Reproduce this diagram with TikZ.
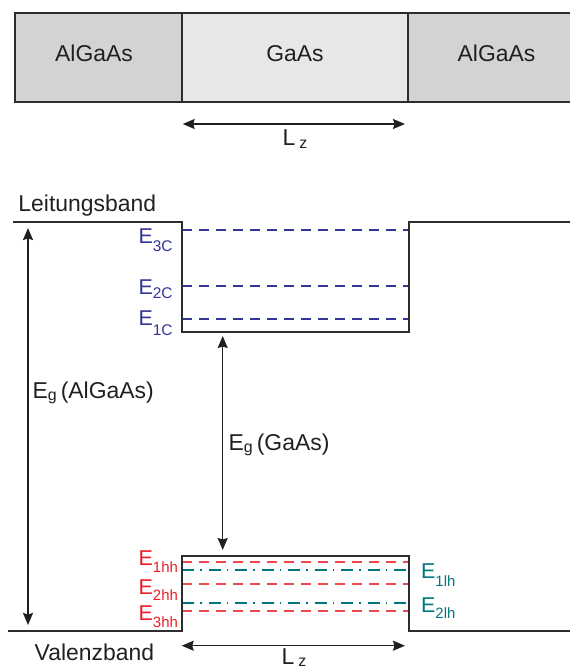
\documentclass[tikz,border=0pt]{standalone}
\usepackage{fontspec}
\setmainfont{Liberation Sans}
\usetikzlibrary{arrows.meta}
\definecolor{ink}{RGB}{35,31,32}
\definecolor{edge}{RGB}{45,45,45}
\definecolor{barside}{RGB}{209,211,212}
\definecolor{barmid}{RGB}{230,231,232}
\definecolor{cblue}{RGB}{50,52,150}
\definecolor{hhline}{RGB}{240,72,78}
\definecolor{hhred}{RGB}{237,28,36}
\definecolor{lhteal}{RGB}{0,118,128}
\newcommand\myfs[1]{\fontsize{#1}{#1}\selectfont}
\begin{document}
\begin{tikzpicture}[x=1bp,y=-1bp,
  lbl/.style={anchor=base west,inner sep=0pt,text=ink,font=\myfs{23}},
  elbl/.style={anchor=base west,inner sep=0pt,font=\myfs{21.5}},
  band/.style={draw=edge,line width=1.8bp},
  dimarrow/.style={draw=ink,line width=1.5bp,{Stealth[length=12bp,width=10bp,inset=1.5bp]}-{Stealth[length=12bp,width=10bp,inset=1.5bp]}},
  cdash/.style={draw=cblue,line width=1.8bp,dash pattern=on 10bp off 7bp},
  hhdash/.style={draw=hhline,line width=1.8bp,dash pattern=on 10bp off 7bp},
  lhdash/.style={draw=lhteal,line width=1.8bp,dash pattern=on 12bp off 6bp on 1.5bp off 7bp}
]
\useasboundingbox (0,0) rectangle (570,669);

% ---- layer stack ----
\fill[barside] (15,13) rectangle (182,102);
\fill[barmid] (182,13) rectangle (408,102);
\fill[barside] (408,13) rectangle (570,102);
\draw[band] (570,13) -| (15,102) -- (570,102);
\draw[band] (182,13) -- (182,102);
\draw[band] (408,13) -- (408,102);
\node[lbl,anchor=base] (layL) at (94,61.7) {AlGaAs};
\node[lbl,anchor=base] (layM) at (295,61.7) {GaAs};
\node[lbl,anchor=base] (layR) at (496.5,61.7) {AlGaAs};

\coordinate (lzA) at (182.7,124);
\coordinate (lzB) at (405,124);
\draw[dimarrow] (lzA) -- (lzB);
\node[lbl] (lztop) at (282.5,145) {L\hspace{4pt}\raisebox{-3.3pt}{\myfs{16}z}};

% ---- conduction band ----
\coordinate (cl) at (13,222);
\coordinate (cwl) at (182,222);
\coordinate (cbl) at (182,332);
\coordinate (cbr) at (409,332);
\coordinate (cwr) at (409,222);
\coordinate (cr) at (570,222);

\coordinate (c3a) at (182,230); \coordinate (c3b) at (409,230);
\coordinate (c2a) at (182,286); \coordinate (c2b) at (409,286);
\coordinate (c1a) at (182,319); \coordinate (c1b) at (409,319);
\draw[cdash] (c3a) -- (c3b);
\draw[cdash] (c2a) -- (c2b);
\draw[cdash] (c1a) -- (c1b);

\draw[band] (cl) -- (cwl) -- (cbl) -- (cbr) -- (cwr) -- (cr);
\node[lbl] (lb) at (18.3,211.7) {Leitungsband};

\node[elbl,text=cblue] (e3c) at (138.3,243.3) {E\raisebox{-8.4pt}{\myfs{15.5}3C}};
\node[elbl,text=cblue] (e2c) at (138.3,294) {E\raisebox{-4.3pt}{\myfs{15.5}2C}};
\node[elbl,text=cblue] (e1c) at (138.3,325.7) {E\raisebox{-10pt}{\myfs{15.5}1C}};

% ---- valence band ----
\coordinate (vl) at (8,631);
\coordinate (vwl) at (182,631);
\coordinate (vtl) at (182,556);
\coordinate (vtr) at (409,556);
\coordinate (vwr) at (409,631);
\coordinate (vr) at (570,631);

\coordinate (h1a) at (182,562); \coordinate (h1b) at (409,562);
\coordinate (l1a) at (182,570); \coordinate (l1b) at (409,570);
\coordinate (h2a) at (182,584); \coordinate (h2b) at (409,584);
\coordinate (l2a) at (182,603); \coordinate (l2b) at (409,603);
\coordinate (h3a) at (182,611); \coordinate (h3b) at (409,611);
\draw[hhdash] (h1a) -- (h1b);
\draw[lhdash] (l1a) -- (l1b);
\draw[hhdash] (h2a) -- (h2b);
\draw[lhdash] (l2a) -- (l2b);
\draw[hhdash] (h3a) -- (h3b);

\draw[band] (vl) -- (vwl) -- (vtl) -- (vtr) -- (vwr) -- (vr);
\node[lbl] (vb) at (34.5,660) {Valenzband};

\node[elbl,text=hhred] (e1hh) at (138.5,565.7) {E\raisebox{-7.3pt}{\myfs{15}1hh}};
\node[elbl,text=hhred] (e2hh) at (138.5,594) {E\raisebox{-7pt}{\myfs{15}2hh}};
\node[elbl,text=hhred] (e3hh) at (138.5,620) {E\raisebox{-8pt}{\myfs{15}3hh}};
\node[elbl,text=lhteal] (e1lh) at (421,578.3) {E\raisebox{-8.4pt}{\myfs{15}1lh}};
\node[elbl,text=lhteal] (e2lh) at (421,612.3) {E\raisebox{-6.7pt}{\myfs{15}2lh}};

% ---- gap arrows ----
\coordinate (gA1) at (28,228);
\coordinate (gA2) at (28,625);
\draw[dimarrow] (gA1) -- (gA2);
\node[lbl] (egal) at (32.5,398) {E\raisebox{-3pt}{\myfs{16}g}\hspace{4pt}(AlGaAs)};

\coordinate (gG1) at (222.7,336);
\coordinate (gG2) at (222.7,550);
\draw[dimarrow] (gG1) -- (gG2);
\node[lbl] (egga) at (228.5,450) {E\raisebox{-3pt}{\myfs{16}g}\hspace{4pt}(GaAs)};

\coordinate (lzC) at (181.7,645.7);
\coordinate (lzD) at (405,645.7);
\draw[dimarrow] (lzC) -- (lzD);
\node[lbl] (lzbot) at (281.5,664) {L\hspace{4pt}\raisebox{-2.8pt}{\myfs{16}z}};
\end{tikzpicture}
\end{document}
